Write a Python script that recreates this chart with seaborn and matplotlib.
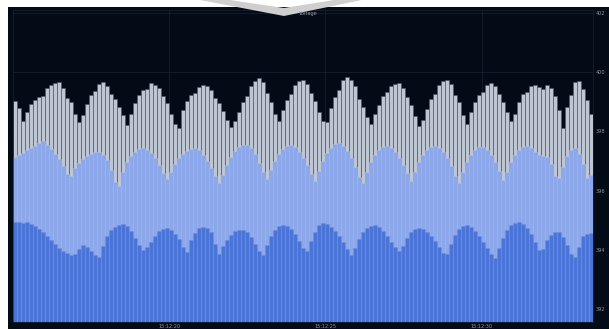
import numpy as np
import pandas as pd
import matplotlib
matplotlib.use("Agg")
import matplotlib.pyplot as plt
from matplotlib.patches import Rectangle, Polygon
import seaborn as sns

# Three-phase voltage samples (V), one bar per sample
phase_a = [
    399.02, 398.80, 398.35, 398.65, 398.92, 399.06, 399.16, 399.18, 399.46, 399.56,
    399.63, 399.66, 399.46, 399.12, 398.99, 398.59, 398.32, 398.55, 398.92, 399.23,
    399.36, 399.60, 399.66, 399.53, 399.26, 399.09, 398.82, 398.55, 398.21, 398.59,
    398.96, 399.23, 399.39, 399.42, 399.63, 399.56, 399.46, 399.18, 398.96, 398.59,
    398.25, 398.11, 398.72, 399.02, 399.23, 399.28, 399.50, 399.56, 399.53, 399.39,
    399.12, 398.96, 398.69, 398.38, 398.15, 398.35, 398.65, 398.99, 399.18, 399.53,
    399.70, 399.80, 399.66, 399.28, 398.99, 398.59, 398.35, 398.72, 399.06, 399.25,
    399.56, 399.70, 399.73, 399.60, 399.28, 399.02, 398.65, 398.35, 398.32, 398.79,
    399.16, 399.40, 399.73, 399.83, 399.73, 399.53, 399.08, 398.82, 398.48, 398.25,
    398.59, 398.89, 399.19, 399.32, 399.53, 399.60, 399.63, 399.46, 399.15, 398.89,
    398.52, 398.18, 398.38, 398.75, 399.09, 399.25, 399.56, 399.70, 399.73, 399.60,
    399.22, 398.99, 398.55, 398.25, 398.65, 398.99, 399.23, 399.32, 399.56, 399.63,
    399.53, 399.25, 398.99, 398.65, 398.35, 398.59, 398.99, 399.26, 399.33, 399.53,
    399.56, 399.50, 399.42, 399.56, 399.46, 399.19, 398.72, 398.11, 398.82, 399.22,
    399.66, 399.70, 399.43, 399.06, 398.59,
]

phase_b = [
    397.13, 397.20, 397.27, 397.37, 397.44, 397.51, 397.61, 397.67, 397.54, 397.40,
    397.24, 397.07, 396.83, 396.56, 396.49, 396.76, 396.93, 397.07, 397.17, 397.24,
    397.30, 397.30, 397.20, 397.03, 396.70, 396.29, 396.16, 396.63, 396.97, 397.17,
    397.30, 397.40, 397.44, 397.37, 397.27, 397.10, 396.86, 396.59, 396.39, 396.63,
    396.90, 397.10, 397.24, 397.34, 397.40, 397.44, 397.37, 397.20, 397.00, 396.76,
    396.49, 396.26, 396.53, 396.86, 397.13, 397.34, 397.47, 397.54, 397.54, 397.44,
    397.24, 396.93, 396.63, 396.39, 396.70, 397.00, 397.24, 397.40, 397.51, 397.54,
    397.47, 397.30, 397.10, 396.86, 396.56, 396.33, 396.66, 397.00, 397.27, 397.44,
    397.57, 397.61, 397.51, 397.34, 397.10, 396.80, 396.46, 396.26, 396.63, 396.97,
    397.20, 397.37, 397.47, 397.51, 397.44, 397.30, 397.10, 396.86, 396.59, 396.33,
    396.63, 396.97, 397.20, 397.37, 397.47, 397.51, 397.44, 397.30, 397.10, 396.83,
    396.49, 396.26, 396.63, 396.97, 397.20, 397.37, 397.47, 397.47, 397.37, 397.20,
    396.97, 396.66, 396.36, 396.63, 396.97, 397.20, 397.37, 397.47, 397.51, 397.44,
    397.30, 397.20, 397.17, 397.13, 396.90, 396.49, 396.43, 396.80, 397.17, 397.37,
    397.44, 397.24, 396.90, 396.43, 396.53,
]

phase_c = [
    394.94, 394.94, 394.91, 394.94, 394.87, 394.81, 394.71, 394.60, 394.47, 394.33,
    394.20, 394.07, 393.96, 393.90, 393.83, 393.86, 394.03, 394.17, 394.10, 393.96,
    393.83, 393.76, 394.13, 394.47, 394.67, 394.77, 394.84, 394.87, 394.81, 394.64,
    394.40, 394.17, 394.00, 394.10, 394.27, 394.47, 394.64, 394.71, 394.74, 394.67,
    394.54, 394.37, 394.10, 393.93, 394.33, 394.57, 394.74, 394.77, 394.74, 394.60,
    394.20, 393.86, 394.13, 394.33, 394.50, 394.64, 394.67, 394.67, 394.60, 394.44,
    394.20, 393.96, 393.83, 394.17, 394.47, 394.67, 394.81, 394.84, 394.81, 394.71,
    394.54, 394.30, 394.07, 393.96, 394.30, 394.60, 394.84, 394.91, 394.87, 394.77,
    394.64, 394.47, 394.27, 394.03, 393.83, 394.07, 394.37, 394.60, 394.74, 394.81,
    394.84, 394.77, 394.64, 394.47, 394.27, 394.10, 393.96, 394.13, 394.40, 394.60,
    394.71, 394.74, 394.71, 394.60, 394.47, 394.30, 394.10, 393.90, 393.86, 394.20,
    394.50, 394.71, 394.81, 394.84, 394.77, 394.64, 394.47, 394.27, 394.07, 393.86,
    393.73, 394.07, 394.40, 394.67, 394.84, 394.91, 394.94, 394.87, 394.74, 394.54,
    394.27, 394.00, 394.03, 394.33, 394.50, 394.60, 394.60, 394.44, 394.17, 393.86,
    393.76, 394.10, 394.47, 394.54, 394.57,
]

y_ticks = [392, 394, 396, 398, 400, 402]
x_ticks = [20, 25, 30]
x_tick_labels = ["15:12:20", "15:12:25", "15:12:30"]
title = "Voltage"

# sample timestamps, in seconds after 15:12:00
n = len(phase_a)
t_start, t_step = 15.0, 0.128
seconds = t_start + t_step * (np.arange(n) + 0.5)
df = pd.DataFrame({"t": seconds, "a": phase_a, "b": phase_b, "c": phase_c})

W, H = 609, 329
fig = plt.figure(figsize=(W / 100, H / 100), dpi=100, facecolor="white")

panel_bg = "#020b16"
fig.patches.append(Rectangle((8 / W, 0), 1 - 8 / W, 1 - 7 / H,
                             transform=fig.transFigure, facecolor=panel_bg,
                             edgecolor="none", zorder=-5))
# grey chevron overlay at the top edge
chev = [(200, 0), (284, 16), (362, 0), (334, 0), (284, 8), (230, 0)]
fig.patches.append(Polygon([(x / W, 1 - y / H) for x, y in chev], closed=True,
                           transform=fig.transFigure, facecolor="#cfcfcf",
                           edgecolor="none", zorder=10))

ax = fig.add_axes([13 / W, 7 / H, 580 / W, 312 / H])
ax.set_zorder(1)
ax.set_facecolor(panel_bg)

series = [("a", "#bec6d4", "#4a5363"),
          ("b", "#8ca8ea", "#a8bcef"),
          ("c", "#4a74d8", "#6d90e3")]
for col, face, edge in series:
    sns.barplot(data=df, x="t", y=col, native_scale=True, width=1.0,
                color=face, saturation=1, errorbar=None, ax=ax,
                edgecolor=edge, linewidth=0.4)

ax.set_xlim(t_start, t_start + t_step * n)
ax.set_ylim(391.56, 402.1)

ax.yaxis.tick_right()
ax.set_yticks(y_ticks)
ax.set_yticklabels([str(v) for v in y_ticks])
ax.set_xticks(x_ticks)
ax.set_xticklabels(x_tick_labels)
ax.tick_params(axis="both", length=0, labelsize=3.6, colors="#8f959e", pad=2)
ax.tick_params(axis="x", pad=1.5)
ax.set_xlabel("")
ax.set_ylabel("")

ax.grid(True, color="#1b2330", linewidth=0.5)
ax.set_axisbelow(True)
for s in ax.spines.values():
    s.set_color("#1b2330")
    s.set_linewidth(0.5)

fig.text(308 / W, 1 - 13 / H, title, ha="center", va="center",
         fontsize=3.6, color="#9aa0a8", zorder=11)

fig.savefig("out.png", dpi=100, facecolor=fig.get_facecolor())
